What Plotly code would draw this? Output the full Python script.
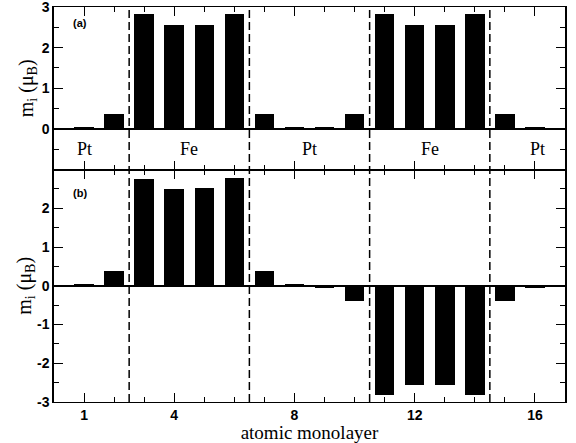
import plotly.graph_objects as go

layers = list(range(1, 17))
m_top = [0.05, 0.38, 2.83, 2.55, 2.55, 2.83, 0.38, 0.05, 0.05, 0.38, 2.83, 2.55, 2.55, 2.83, 0.38, 0.05]
m_bot = [0.05, 0.38, 2.76, 2.52, 2.54, 2.79, 0.38, 0.05, -0.05, -0.38, -2.80, -2.54, -2.54, -2.80, -0.38, -0.05]
boundaries = [2.5, 6.5, 10.5, 14.5]
region_labels = ["Pt", "Fe", "Pt", "Fe", "Pt"]
region_x = [1.0, 4.5, 8.5, 12.5, 16.1]
x_ticks = [1, 4, 8, 12, 16]

fig = go.Figure()
fig.add_trace(go.Bar(x=layers, y=m_top, width=0.65, marker=dict(color="black", line=dict(width=0)),
                     xaxis="x2", yaxis="y2", showlegend=False))
fig.add_trace(go.Bar(x=layers, y=m_bot, width=0.65, marker=dict(color="black", line=dict(width=0)),
                     xaxis="x", yaxis="y", showlegend=False))

split = 233 / 396
tickfont = dict(family="Liberation Sans, Arial", size=14, color="black")
serif = "Liberation Serif, Times New Roman, serif"

xcommon = dict(range=[0, 17], showline=True, linecolor="black", linewidth=1, mirror="ticks",
               ticks="inside", ticklen=9, tickwidth=1, tickcolor="black", automargin=False,
               tickmode="array", tickvals=x_ticks, showgrid=False, zeroline=False,
               minor=dict(tickmode="array", tickvals=layers, ticks="inside", ticklen=5, tickcolor="black"))
ycommon = dict(showline=True, linecolor="black", linewidth=1.5, mirror="ticks",
               ticks="inside", ticklen=9, tickwidth=1, tickcolor="black", showgrid=False,
               zeroline=True, zerolinecolor="black", zerolinewidth=2, automargin=False,
               tickfont=tickfont, tickmode="array", ticklabeloverflow="allow",
               minor=dict(dtick=0.5, ticks="inside", ticklen=5, tickcolor="black"))

ytitle = "m<sub>i</sub> (μ<sub>B</sub>)"

fig.update_layout(
    width=576, height=443,
    margin=dict(l=54, r=11, t=7, b=41, autoexpand=False),
    plot_bgcolor="white", paper_bgcolor="white",
    bargap=0,
    xaxis=dict(**xcommon, anchor="y", domain=[0, 1], tickfont=tickfont,
               ticktext=["<b>%d</b>" % v for v in x_ticks],
               title=dict(text="atomic monolayer", font=dict(family=serif, size=19, color="black"), standoff=0)),
    xaxis2=dict(**xcommon, anchor="y2", domain=[0, 1], showticklabels=False),
    yaxis=dict(**ycommon, domain=[0, split], range=[-3, 3],
               tickvals=[-3, -2, -1, 0, 1, 2],
               ticktext=["<b>%d</b>" % v for v in [-3, -2, -1, 0, 1, 2]],
               title=dict(text=ytitle, font=dict(family=serif, size=20, color="black"), standoff=0)),
    yaxis2=dict(**ycommon, domain=[split, 1], range=[-1, 3], anchor="x2",
                tickvals=[0, 1, 2, 3],
                ticktext=["<b>%d</b>" % v for v in [0, 1, 2, 3]],
                title=dict(text=ytitle, font=dict(family=serif, size=20, color="black"), standoff=3)),
)

for b in boundaries:
    fig.add_shape(type="line", xref="x", yref="paper", x0=b, x1=b, y0=0, y1=1,
                  line=dict(color="black", width=1.5, dash="8px,4px"))

for lbl, xv in zip(region_labels, region_x):
    fig.add_annotation(x=xv, y=-0.5, xref="x2", yref="y2", text=lbl, showarrow=False,
                       font=dict(family=serif, size=18, color="black"))

fig.add_annotation(x=0.87, y=2.6, xref="x2", yref="y2", text="<b>(a)</b>", showarrow=False,
                   font=dict(family="Liberation Sans, Arial", size=11, color="black"))
fig.add_annotation(x=0.87, y=2.4, xref="x", yref="y", text="<b>(b)</b>", showarrow=False,
                   font=dict(family="Liberation Sans, Arial", size=11, color="black"))

fig.write_html("out.html")
